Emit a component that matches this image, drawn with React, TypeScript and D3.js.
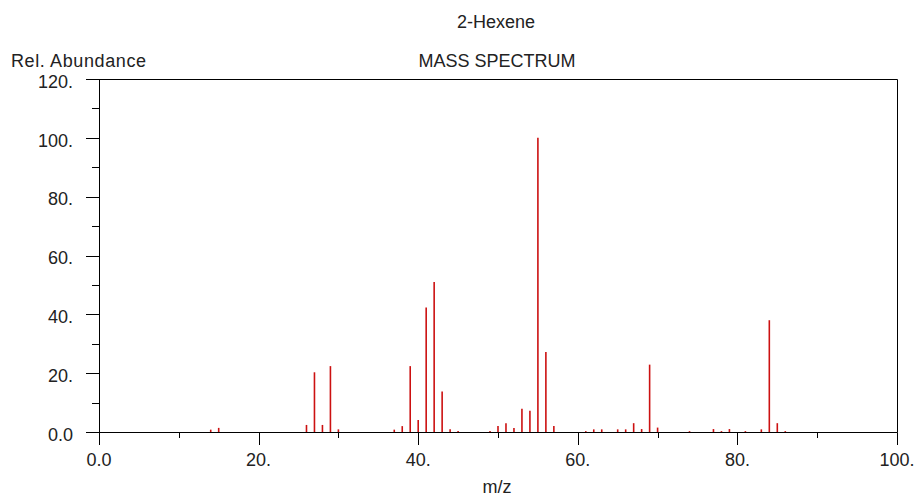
import React from "react";
import * as d3 from "d3";

const mzValues = [14, 15, 26, 27, 28, 29, 30, 37, 38, 39, 40, 41, 42, 43, 44, 45, 49, 50, 51, 52, 53, 54, 55, 56, 57, 61, 62, 63, 65, 66, 67, 68, 69, 70, 74, 77, 78, 79, 81, 83, 84, 85, 86];
const abundances = [0.8, 1.4, 2.4, 20.3, 2.4, 22.4, 0.9, 0.8, 2.0, 22.4, 4.1, 42.3, 51.0, 13.8, 0.9, 0.3, 0.3, 2.0, 3.0, 1.4, 7.9, 7.2, 100, 27.2, 2.0, 0.3, 0.9, 0.9, 0.9, 0.9, 3.0, 1.0, 22.9, 1.5, 0.3, 1.0, 0.3, 1.0, 0.3, 0.9, 38.0, 3.0, 0.3];

const xMajorTicks = [0, 20, 40, 60, 80, 100];
const xMajorLabels = ["0.0", "20.", "40.", "60.", "80.", "100."];
const xMinorTicks = [10, 30, 50, 70, 90];
const yMajorTicks = [0, 20, 40, 60, 80, 100, 120];
const yMajorLabels = ["0.0", "20.", "40.", "60.", "80.", "100.", "120."];
const yMinorTicks = [10, 30, 50, 70, 90, 110];

const titleText = "2-Hexene";
const subtitleText = "MASS SPECTRUM";
const yLabel = "Rel. Abundance";
const xLabel = "m/z";

export default function App() {
  const W = 916, H = 496;
  const x = d3.scaleLinear().domain([0, 100]).range([99, 897]);
  const y = d3.scaleLinear().domain([0, 120]).range([432, 79]);
  const font = "'Liberation Sans', Arial, sans-serif";
  const axisColor = "#000";
  const c = (v: number) => Math.round(v) + 0.5;

  return (
    <svg width={W} height={H} style={{ position: "absolute", left: 0, top: 0, background: "#fff" }} fontFamily={font}>
      <rect x={0} y={0} width={W} height={H} fill="#fff" />
      <text x={496} y={28} fontSize={18} textAnchor="middle" fill="#222">{titleText}</text>
      <text x={497} y={67} fontSize={18} textAnchor="middle" fill="#222">{subtitleText}</text>
      <text x={11} y={67} fontSize={18} textAnchor="start" fill="#222" textLength={135} lengthAdjust="spacing">{yLabel}</text>
      <text x={497} y={493} fontSize={18} textAnchor="middle" fill="#222">{xLabel}</text>

      {/* peaks */}
      {mzValues.map((m, i) => (
        <line key={"p" + i} x1={x(m)} x2={x(m)} y1={y(0)} y2={y(abundances[i])} stroke="#cc1111" strokeWidth={1.6} />
      ))}

      {/* frame */}
      <line x1={86} x2={c(x(100))} y1={c(y(120))} y2={c(y(120))} stroke={axisColor} strokeWidth={1} />
      <line x1={86} x2={c(x(100))} y1={c(y(0))} y2={c(y(0))} stroke={axisColor} strokeWidth={1} />
      <line x1={c(x(0))} x2={c(x(0))} y1={c(y(120))} y2={c(y(0))} stroke={axisColor} strokeWidth={1} />
      <line x1={c(x(100))} x2={c(x(100))} y1={c(y(120))} y2={c(y(0))} stroke={axisColor} strokeWidth={1} />

      {/* y ticks */}
      {yMajorTicks.map((t, i) => (
        <g key={"ym" + i}>
          <line x1={86} x2={c(x(0))} y1={c(y(t))} y2={c(y(t))} stroke={axisColor} strokeWidth={1} />
          <text x={73} y={y(t) + 8.8} fontSize={18} textAnchor="end" fill="#222">{yMajorLabels[i]}</text>
        </g>
      ))}
      {yMinorTicks.map((t, i) => (
        <line key={"yn" + i} x1={92} x2={c(x(0))} y1={c(y(t))} y2={c(y(t))} stroke={axisColor} strokeWidth={1} />
      ))}

      {/* x ticks */}
      {xMajorTicks.map((t, i) => (
        <g key={"xm" + i}>
          <line x1={c(x(t))} x2={c(x(t))} y1={c(y(0))} y2={445} stroke={axisColor} strokeWidth={1} />
          <text x={x(t)} y={466} fontSize={18} textAnchor="middle" fill="#222">{xMajorLabels[i]}</text>
        </g>
      ))}
      {xMinorTicks.map((t, i) => (
        <line key={"xn" + i} x1={c(x(t))} x2={c(x(t))} y1={c(y(0))} y2={438} stroke={axisColor} strokeWidth={1} />
      ))}
    </svg>
  );
}
